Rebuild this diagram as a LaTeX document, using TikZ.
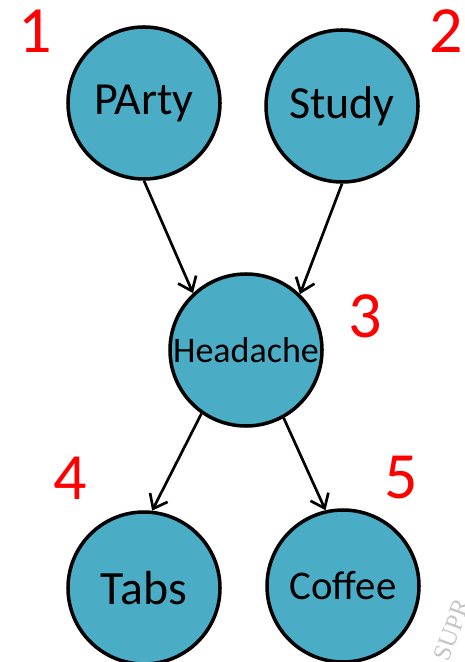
\documentclass[tikz,border=0pt]{standalone}
\usepackage{fontspec}
\setmainfont{Carlito}
\newfontfamily\wmfont{Liberation Serif}
\usetikzlibrary{arrows.meta}

\definecolor{nodeaqua}{HTML}{4BACC6}
\tikzset{
  var/.style={circle, draw=black, line width=2.5pt, fill=nodeaqua,
    minimum size=3.8cm, inner sep=0pt, font=\fontsize{32.7}{36}\selectfont},
  num/.style={text=red, inner sep=0pt, font=\fontsize{47}{50}\selectfont},
  link/.style={line width=1.9pt, -{Straight Barb[length=9pt,width=14pt,line width=1.9pt]}}
}

\begin{document}
\begin{tikzpicture}
\useasboundingbox (0,0) rectangle (11.6,-16.55);
% Draw the variables
\node[var] (party) at (3.6,-2.575) {PArty};
\node[var] (study) at (8.55,-2.65) {Study};
\node[var, font=\fontsize{25.6}{28}\selectfont] (headache) at (6.15,-8.75) {Headache};
\node[var, font=\fontsize{34}{38}\selectfont] (tabs) at (3.6,-14.7) {Tabs};
\node[var, font=\fontsize{29}{32}\selectfont] (coffee) at (8.575,-14.65) {Coffee};
% Number the variables
\node[num] (n1) at (0.875,-0.775) {1};
\node[num] (n2) at (11.15,-0.775) {2};
\node[num] (n3) at (9.125,-7.9) {3};
\node[num] (n4) at (1.75,-11.95) {4};
\node[num] (n5) at (10.025,-11.95) {5};
% Draw the dependencies
\draw[link] (party.south) -- (headache.133);
\draw[link] (study.south) -- (headache.46);
\draw[link] (headache.235) -- (tabs.84);
\draw[link] (headache.299) -- (coffee.103);
% Watermark
\node[rotate=70, text=gray!45, inner sep=0pt, font=\wmfont\fontsize{18}{18}\selectfont] (mark) at (11.3,-15.75) {SUPR};
\end{tikzpicture}
\end{document}
